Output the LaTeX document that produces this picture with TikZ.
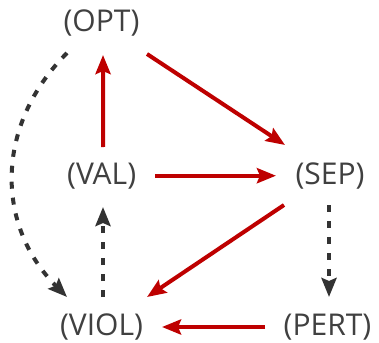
\documentclass[tikz,border=0pt]{standalone}
\usepackage{fontspec}
\setmainfont{Open Sans}
\usetikzlibrary{arrows.meta}
\definecolor{arred}{RGB}{190,0,0}
\definecolor{ardark}{RGB}{51,51,51}
\definecolor{txtgray}{RGB}{64,64,64}
\tikzset{
  lbl/.style={anchor=base, inner sep=0pt, text=txtgray, font=\fontsize{30}{36}\selectfont},
  redarrow/.style={draw=arred, line width=4pt, -{Stealth[length=19pt,width=15pt,inset=3pt]}},
  dasharrow/.style={draw=ardark, line width=4pt, dash pattern=on 7pt off 9pt, -{Stealth[length=19pt,width=15pt,inset=3pt]}}
}
\begin{document}
\begin{tikzpicture}[x=1pt,y=-1pt]
\useasboundingbox (0,0) rectangle (379,342);
\node[lbl] (OPT) at (101.5,32) {(OPT)};
\node[lbl] (VAL) at (101.7,184) {(VAL)};
\node[lbl] (SEP) at (330,184) {(SEP)};
\node[lbl] (VIOL) at (101.5,335) {(VIOL)};
\node[lbl] (PERT) at (327.5,335) {(PERT)};
% red arrows
\draw[redarrow] ([shift={(1.5,-37)}]VAL.base) -- ([shift={(1.5,23)}]OPT.base);
\draw[redarrow] ([shift={(45.5,22)}]OPT.base) -- ([shift={(-45,-39)}]SEP.base);
\draw[redarrow] ([shift={(53.3,-8.3)}]VAL.base) -- ([shift={(-54,-8.3)}]SEP.base);
\draw[redarrow] ([shift={(-46,21)}]SEP.base) -- ([shift={(45.5,-38)}]VIOL.base);
\draw[redarrow] ([shift={(-62.5,-8)}]PERT.base) -- ([shift={(60.5,-8)}]VIOL.base);
% dashed arrows
\draw[dasharrow] ([shift={(-1,21)}]SEP.base) -- ([shift={(1.5,-38)}]PERT.base);
\draw[dasharrow] ([shift={(1.5,-38)}]VIOL.base) -- ([shift={(1.3,23)}]VAL.base);
\draw[dasharrow] ([shift={(-34.5,21)}]OPT.base) .. controls +(-72,72) and +(-72,-72) .. ([shift={(-34.5,-38)}]VIOL.base);
\end{tikzpicture}
\end{document}
